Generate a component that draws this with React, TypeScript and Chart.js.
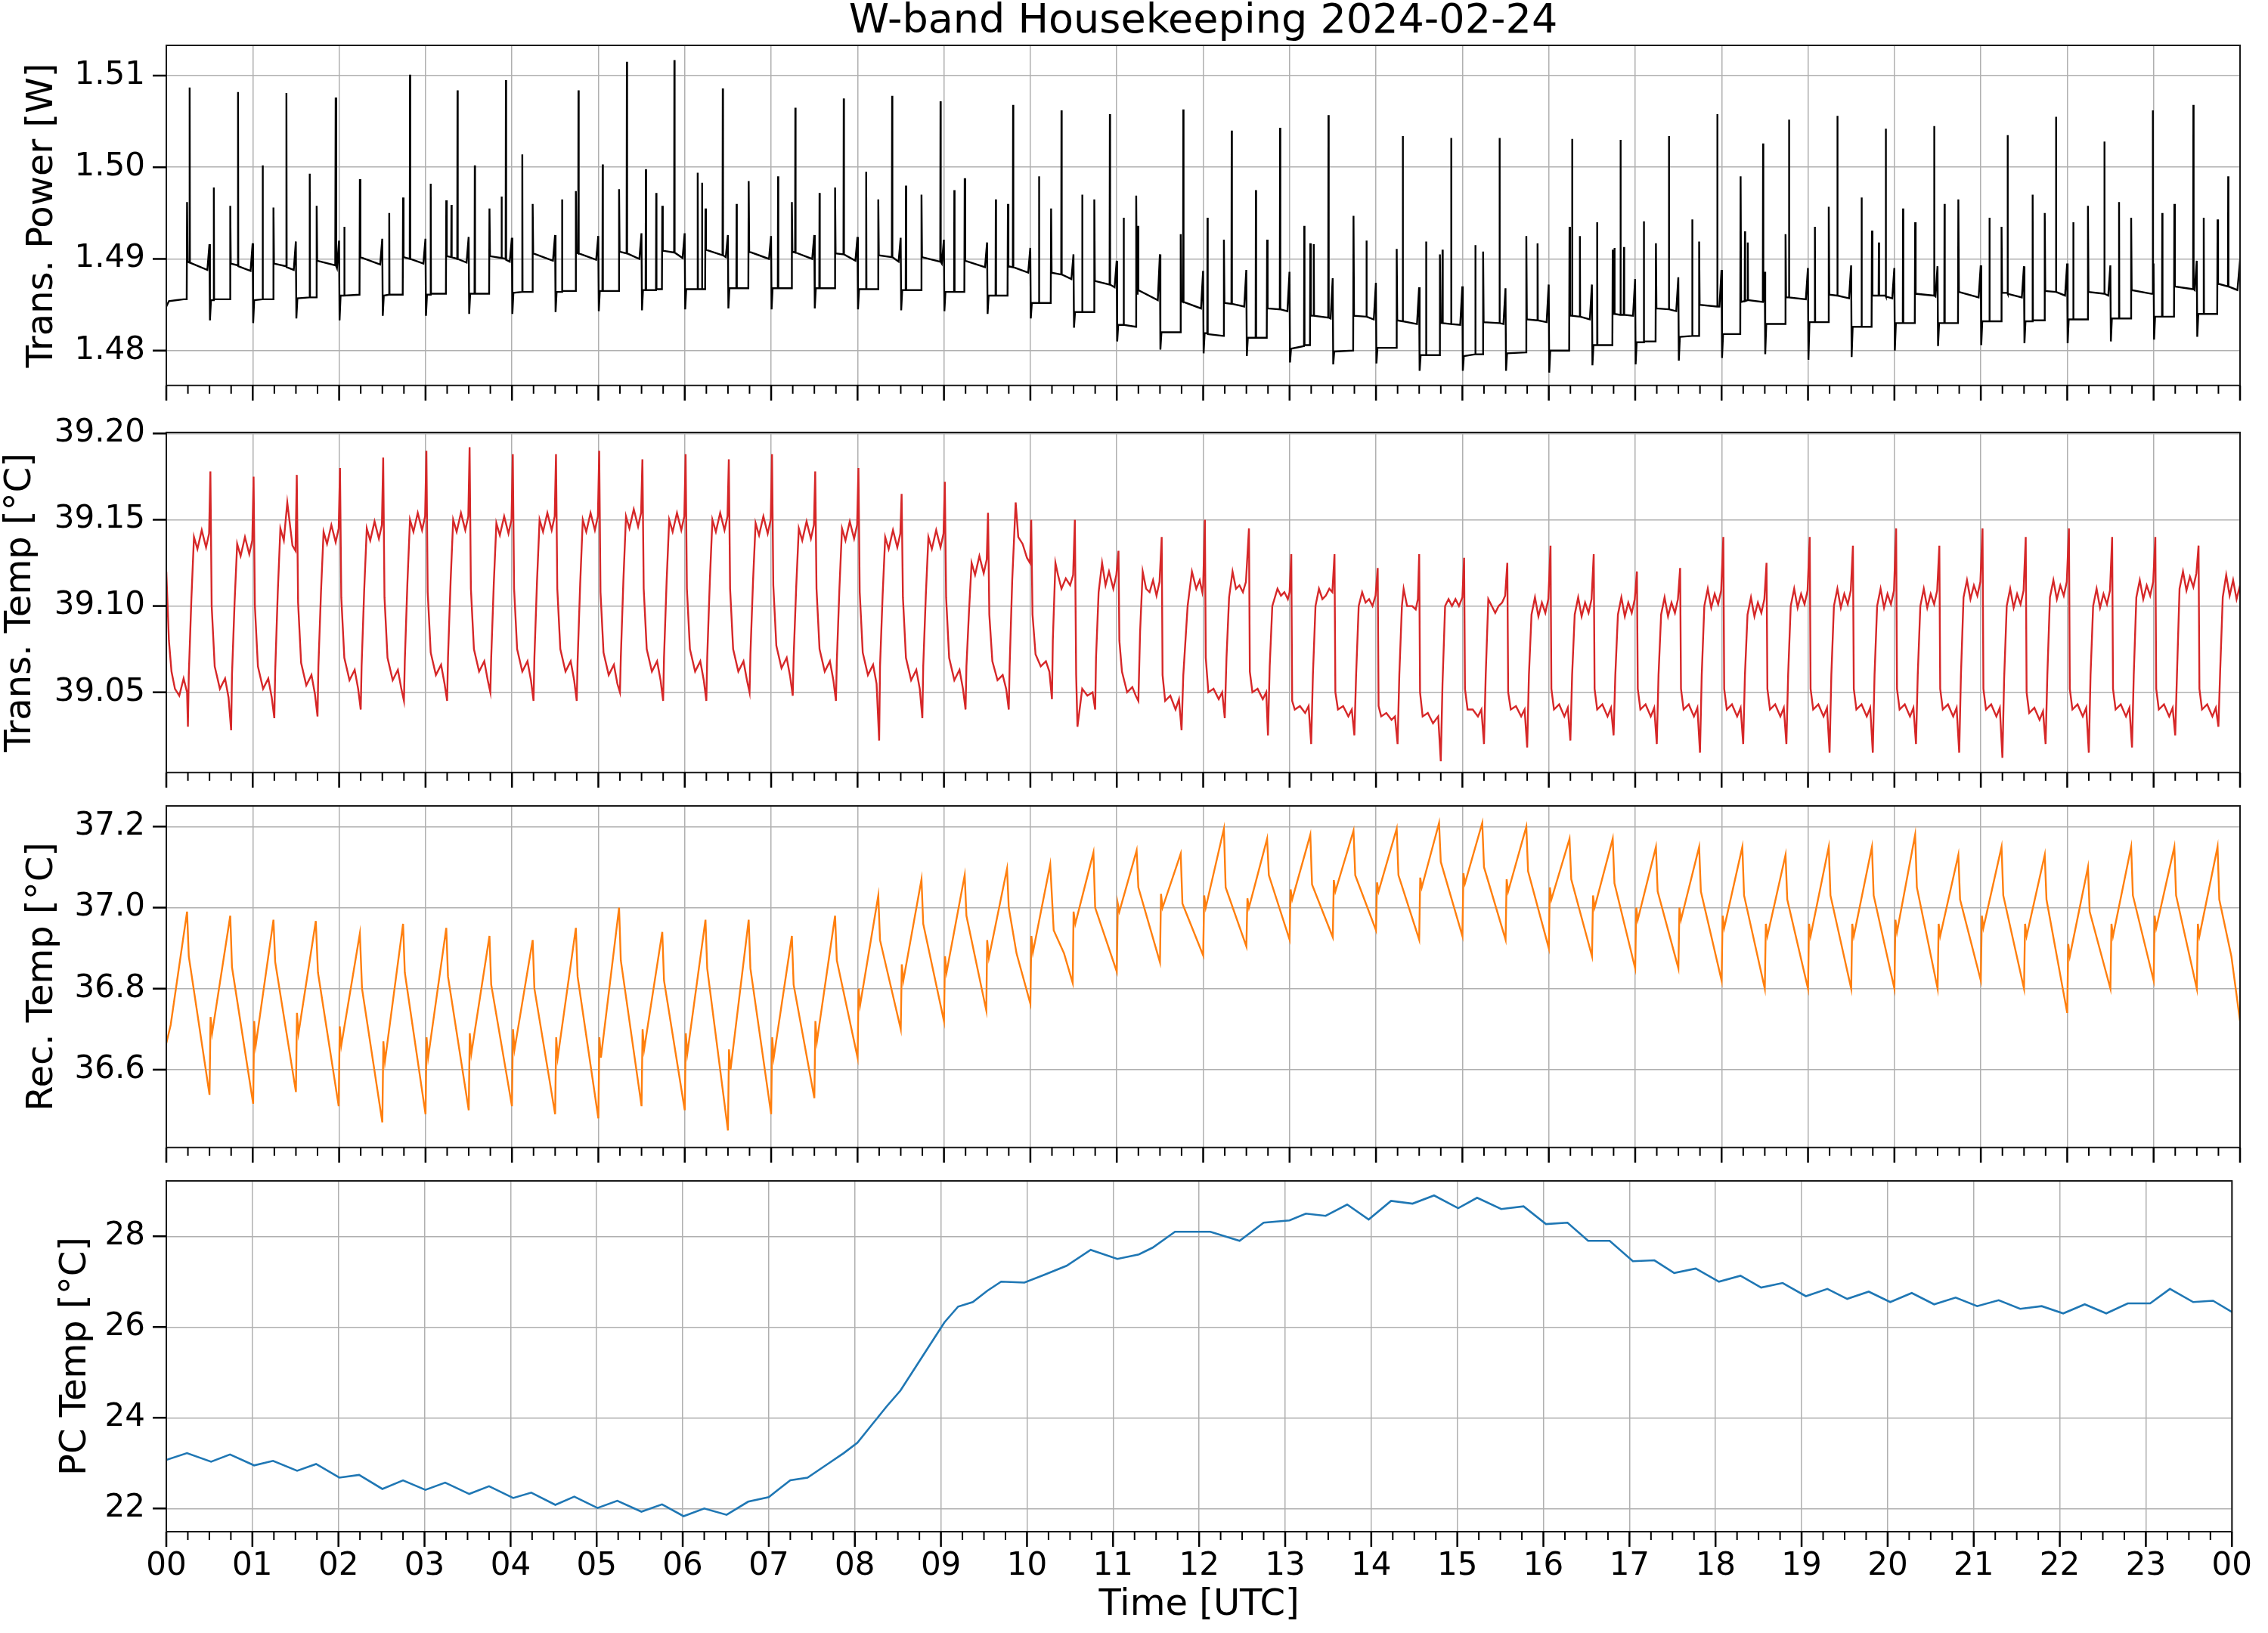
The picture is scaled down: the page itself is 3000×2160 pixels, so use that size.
import { useEffect, useRef } from 'react';
import { Chart, ChartConfiguration, registerables } from 'chart.js';

Chart.register(...registerables);

const FONT = "'DejaVu Sans', 'Liberation Sans', sans-serif";

// x axis: hour of day (UTC)
const hourLabels = [
  '00', '01', '02', '03', '04', '05', '06', '07', '08', '09', '10', '11',
  '12', '13', '14', '15', '16', '17', '18', '19', '20', '21', '22', '23', '00',
];

// y ticks per panel
const powerTicks = [1.48, 1.49, 1.5, 1.51];
const transTempTicks = [39.05, 39.1, 39.15, 39.2];
const recTempTicks = [36.6, 36.8, 37.0, 37.2];
const pcTempTicks = [22, 24, 26, 28];

// readings as [hour, value]
const powerReadings: [number, number][] = [
  [0, 1.4848], [0.03, 1.4854], [0.12, 1.4855], [0.2, 1.4856],
  [0.236, 1.4856], [0.24, 1.4962], [0.246, 1.4897], [0.267, 1.4896], [0.27, 1.5087], [0.273, 1.4896], [0.475, 1.4888], [0.499, 1.4916], [0.505, 1.4833], [0.517, 1.4855], [0.547, 1.4855], [0.55, 1.4978], [0.553, 1.4856],
  [0.736, 1.4856], [0.74, 1.4958], [0.746, 1.4895], [0.827, 1.4893], [0.83, 1.5082], [0.833, 1.4892], [0.975, 1.4887], [0.999, 1.4917], [1.005, 1.483], [1.017, 1.4855], [1.112, 1.4856], [1.115, 1.5002], [1.118, 1.4856],
  [1.236, 1.4856], [1.24, 1.4956], [1.246, 1.4895], [1.387, 1.4892], [1.39, 1.5081], [1.393, 1.4891], [1.475, 1.4888], [1.499, 1.4919], [1.505, 1.4835], [1.517, 1.4857], [1.657, 1.4858], [1.66, 1.4993], [1.663, 1.4858],
  [1.736, 1.4858], [1.74, 1.4958], [1.746, 1.4898], [1.955, 1.4893], [1.96, 1.5076], [1.967, 1.4892], [1.975, 1.489], [1.999, 1.492], [2.005, 1.4833], [2.017, 1.486], [2.057, 1.486], [2.06, 1.4935], [2.063, 1.486],
  [2.236, 1.4861], [2.24, 1.4987], [2.246, 1.4902], [2.475, 1.4894], [2.499, 1.4922], [2.505, 1.4838], [2.517, 1.486], [2.577, 1.4861], [2.58, 1.495], [2.583, 1.4861],
  [2.736, 1.4861], [2.74, 1.4967], [2.746, 1.4902], [2.817, 1.49], [2.82, 1.5101], [2.823, 1.49], [2.975, 1.4895], [2.999, 1.4922], [3.005, 1.4838], [3.017, 1.4861], [3.057, 1.4861], [3.06, 1.4982], [3.063, 1.4862],
  [3.236, 1.4862], [3.24, 1.4964], [3.246, 1.4903], [3.297, 1.4902], [3.3, 1.4959], [3.303, 1.4902], [3.367, 1.49], [3.37, 1.5084], [3.373, 1.49], [3.475, 1.4896], [3.499, 1.4924], [3.505, 1.484], [3.517, 1.4862], [3.567, 1.4862], [3.57, 1.5002], [3.573, 1.4862],
  [3.736, 1.4862], [3.74, 1.4955], [3.746, 1.4903], [3.877, 1.4901], [3.88, 1.4968], [3.883, 1.4901], [3.927, 1.49], [3.93, 1.5095], [3.933, 1.4899], [3.975, 1.4897], [3.999, 1.4923], [4.005, 1.484], [4.017, 1.4863], [4.117, 1.4864], [4.12, 1.5014], [4.123, 1.4864],
  [4.236, 1.4864], [4.24, 1.496], [4.246, 1.4906], [4.475, 1.4898], [4.499, 1.4926], [4.505, 1.4842], [4.517, 1.4864], [4.577, 1.4864], [4.58, 1.4965], [4.583, 1.4865],
  [4.736, 1.4865], [4.74, 1.4974], [4.746, 1.4907], [4.767, 1.4906], [4.77, 1.5084], [4.773, 1.4906], [4.975, 1.4899], [4.999, 1.4925], [5.005, 1.4843], [5.017, 1.4865], [5.047, 1.4865], [5.05, 1.5003], [5.053, 1.4865],
  [5.236, 1.4865], [5.24, 1.4976], [5.246, 1.4908], [5.327, 1.4906], [5.33, 1.5115], [5.333, 1.4906], [5.475, 1.49], [5.499, 1.4928], [5.505, 1.4844], [5.517, 1.4866], [5.547, 1.4866], [5.55, 1.4998], [5.553, 1.4866], [5.667, 1.4866], [5.67, 1.4972], [5.673, 1.4867],
  [5.736, 1.4867], [5.74, 1.4958], [5.746, 1.4909], [5.877, 1.4907], [5.88, 1.5117], [5.883, 1.4907], [5.975, 1.4901], [5.999, 1.4928], [6.005, 1.4845], [6.017, 1.4867], [6.147, 1.4867], [6.15, 1.4994], [6.153, 1.4867], [6.197, 1.4867], [6.2, 1.4983], [6.203, 1.4867],
  [6.236, 1.4867], [6.24, 1.4955], [6.246, 1.491], [6.437, 1.4904], [6.44, 1.5086], [6.443, 1.4904], [6.475, 1.4902], [6.499, 1.4926], [6.505, 1.4846], [6.517, 1.4868], [6.597, 1.4868], [6.6, 1.496], [6.603, 1.4868],
  [6.736, 1.4868], [6.74, 1.4985], [6.746, 1.4908], [6.975, 1.49], [6.999, 1.4925], [7.005, 1.4845], [7.017, 1.4868], [7.077, 1.4868], [7.08, 1.499], [7.083, 1.4868],
  [7.236, 1.4868], [7.24, 1.4962], [7.246, 1.4908], [7.277, 1.4907], [7.28, 1.5065], [7.283, 1.4907], [7.475, 1.49], [7.499, 1.4926], [7.505, 1.4846], [7.517, 1.4868], [7.557, 1.4868], [7.56, 1.4972], [7.563, 1.4868],
  [7.736, 1.4868], [7.74, 1.4978], [7.746, 1.4906], [7.837, 1.4905], [7.84, 1.5075], [7.843, 1.4905], [7.975, 1.4898], [7.999, 1.4924], [8.005, 1.4845], [8.017, 1.4867], [8.097, 1.4867], [8.1, 1.4995], [8.103, 1.4867],
  [8.236, 1.4867], [8.24, 1.4965], [8.246, 1.4904], [8.397, 1.4902], [8.4, 1.5078], [8.403, 1.4902], [8.475, 1.4897], [8.499, 1.4923], [8.505, 1.4844], [8.517, 1.4866], [8.557, 1.4866], [8.56, 1.498], [8.563, 1.4866],
  [8.736, 1.4866], [8.74, 1.497], [8.746, 1.4902], [8.957, 1.4897], [8.96, 1.5072], [8.963, 1.4897], [8.975, 1.4895], [8.999, 1.4921], [9.005, 1.4843], [9.017, 1.4864], [9.117, 1.4864], [9.12, 1.4975], [9.123, 1.4864],
  [9.236, 1.4864], [9.24, 1.4988], [9.246, 1.4898], [9.475, 1.4891], [9.499, 1.4918], [9.505, 1.484], [9.517, 1.486], [9.597, 1.486], [9.6, 1.4965], [9.603, 1.486],
  [9.736, 1.486], [9.74, 1.496], [9.746, 1.4892], [9.797, 1.4891], [9.8, 1.5068], [9.803, 1.4891], [9.975, 1.4885], [9.999, 1.4912], [10.005, 1.4835], [10.017, 1.4852], [10.097, 1.4852], [10.1, 1.499], [10.103, 1.4852],
  [10.236, 1.4852], [10.24, 1.4955], [10.246, 1.4885], [10.357, 1.4883], [10.36, 1.5062], [10.363, 1.4883], [10.475, 1.4878], [10.499, 1.4905], [10.505, 1.4825], [10.517, 1.4842], [10.597, 1.4842], [10.6, 1.497], [10.603, 1.4842],
  [10.736, 1.4842], [10.74, 1.4965], [10.746, 1.4876], [10.917, 1.4872], [10.92, 1.5058], [10.923, 1.4872], [10.975, 1.4869], [10.999, 1.4898], [11.005, 1.481], [11.017, 1.4828], [11.077, 1.4828], [11.08, 1.4945], [11.083, 1.4828],
  [11.22, 1.4826], [11.225, 1.4969], [11.232, 1.4862], [11.242, 1.4862], [11.245, 1.4936], [11.25, 1.4866], [11.475, 1.4855], [11.499, 1.4905], [11.505, 1.4801], [11.517, 1.482],
  [11.736, 1.482], [11.74, 1.4927], [11.746, 1.4854], [11.767, 1.4853], [11.77, 1.5063], [11.773, 1.4853], [11.975, 1.4846], [11.999, 1.4887], [12.005, 1.4797], [12.017, 1.4819], [12.047, 1.4819], [12.05, 1.4945], [12.053, 1.4818],
  [12.236, 1.4816], [12.24, 1.4921], [12.246, 1.4852], [12.327, 1.4851], [12.33, 1.504], [12.333, 1.4851], [12.475, 1.4848], [12.499, 1.4888], [12.505, 1.4794], [12.517, 1.4814], [12.607, 1.4814], [12.61, 1.4975], [12.613, 1.4814],
  [12.736, 1.4814], [12.74, 1.4921], [12.746, 1.4846], [12.887, 1.4845], [12.89, 1.5043], [12.893, 1.4845], [12.975, 1.4843], [12.999, 1.4886], [13.005, 1.4787], [13.017, 1.4802], [13.167, 1.4805], [13.17, 1.4936], [13.173, 1.4806],
  [13.236, 1.4806], [13.24, 1.4917], [13.246, 1.4838], [13.277, 1.4838], [13.28, 1.4916], [13.283, 1.4838], [13.447, 1.4836], [13.45, 1.5057], [13.453, 1.4836], [13.475, 1.4835], [13.499, 1.4879], [13.505, 1.4785], [13.517, 1.4799],
  [13.736, 1.48], [13.74, 1.4947], [13.746, 1.4838], [13.887, 1.4837], [13.89, 1.492], [13.893, 1.4837], [13.975, 1.4834], [13.999, 1.4874], [14.005, 1.4786], [14.017, 1.4803],
  [14.236, 1.4803], [14.24, 1.4911], [14.246, 1.4833], [14.307, 1.4832], [14.31, 1.5034], [14.313, 1.4832], [14.475, 1.4829], [14.499, 1.4869], [14.505, 1.4778], [14.517, 1.4795], [14.577, 1.4795], [14.58, 1.4919], [14.583, 1.4795],
  [14.736, 1.4795], [14.74, 1.4905], [14.746, 1.483], [14.767, 1.483], [14.77, 1.491], [14.773, 1.483], [14.867, 1.4829], [14.87, 1.5032], [14.873, 1.4829], [14.975, 1.4828], [14.999, 1.487], [15.005, 1.4778], [15.017, 1.4794], [15.147, 1.4796], [15.15, 1.4915], [15.153, 1.4796],
  [15.236, 1.4796], [15.24, 1.4908], [15.246, 1.4831], [15.427, 1.483], [15.43, 1.5032], [15.433, 1.483], [15.475, 1.4829], [15.499, 1.4868], [15.505, 1.4778], [15.517, 1.4797],
  [15.736, 1.4798], [15.74, 1.4925], [15.746, 1.4834], [15.867, 1.4833], [15.87, 1.4917], [15.873, 1.4833], [15.975, 1.4831], [15.999, 1.4872], [16.005, 1.4776], [16.017, 1.48],
  [16.236, 1.48], [16.24, 1.4935], [16.246, 1.4838], [16.267, 1.4838], [16.27, 1.5031], [16.273, 1.4838], [16.357, 1.4837], [16.36, 1.4925], [16.363, 1.4837], [16.475, 1.4834], [16.499, 1.4872], [16.505, 1.4784], [16.517, 1.4806], [16.557, 1.4806], [16.56, 1.494], [16.563, 1.4806],
  [16.736, 1.4806], [16.74, 1.491], [16.746, 1.484], [16.757, 1.484], [16.76, 1.4912], [16.763, 1.484], [16.827, 1.4839], [16.83, 1.503], [16.833, 1.4839], [16.867, 1.4839], [16.87, 1.4913], [16.873, 1.4839], [16.975, 1.4838], [16.999, 1.4878], [17.005, 1.4785], [17.017, 1.4809], [17.097, 1.4809], [17.1, 1.4941], [17.103, 1.481],
  [17.236, 1.481], [17.24, 1.4917], [17.246, 1.4846], [17.387, 1.4845], [17.39, 1.5034], [17.393, 1.4845], [17.475, 1.4843], [17.499, 1.488], [17.505, 1.4789], [17.517, 1.4815], [17.657, 1.4816], [17.66, 1.4943], [17.663, 1.4816],
  [17.736, 1.4816], [17.74, 1.4919], [17.746, 1.485], [17.947, 1.4848], [17.95, 1.5058], [17.953, 1.4848], [17.975, 1.4848], [17.999, 1.4888], [18.005, 1.4792], [18.017, 1.4818],
  [18.216, 1.4818], [18.22, 1.499], [18.226, 1.4853], [18.267, 1.4854], [18.27, 1.493], [18.273, 1.4854], [18.3, 1.4855], [18.303, 1.4918], [18.306, 1.4855], [18.477, 1.4853], [18.48, 1.5026], [18.483, 1.4853], [18.499, 1.4886], [18.505, 1.4796], [18.517, 1.4829],
  [18.736, 1.4829], [18.74, 1.4927], [18.746, 1.4858], [18.777, 1.4858], [18.78, 1.5052], [18.783, 1.4858], [18.975, 1.4856], [18.999, 1.489], [19.005, 1.479], [19.017, 1.4831], [19.077, 1.4831], [19.08, 1.4935], [19.083, 1.4831],
  [19.236, 1.4831], [19.24, 1.4957], [19.246, 1.4861], [19.337, 1.486], [19.34, 1.5056], [19.343, 1.486], [19.475, 1.4857], [19.499, 1.4893], [19.505, 1.4793], [19.517, 1.4826], [19.617, 1.4826], [19.62, 1.4967], [19.623, 1.4826],
  [19.736, 1.4826], [19.74, 1.4931], [19.746, 1.486], [19.817, 1.486], [19.82, 1.4918], [19.823, 1.486], [19.897, 1.486], [19.9, 1.5042], [19.903, 1.4859], [19.975, 1.4857], [19.999, 1.489], [20.005, 1.48], [20.017, 1.483], [20.097, 1.483], [20.1, 1.4955], [20.103, 1.483],
  [20.236, 1.483], [20.24, 1.494], [20.246, 1.4862], [20.457, 1.486], [20.46, 1.5045], [20.463, 1.486], [20.475, 1.4859], [20.499, 1.4892], [20.505, 1.4805], [20.517, 1.483], [20.577, 1.483], [20.58, 1.496], [20.583, 1.483],
  [20.736, 1.483], [20.74, 1.4965], [20.746, 1.4864], [20.975, 1.4858], [20.999, 1.4893], [21.005, 1.4806], [21.017, 1.4832], [21.097, 1.4832], [21.1, 1.4945], [21.103, 1.4832],
  [21.236, 1.4832], [21.24, 1.4935], [21.246, 1.4863], [21.307, 1.4863], [21.31, 1.5035], [21.313, 1.4862], [21.475, 1.4858], [21.499, 1.4892], [21.505, 1.4808], [21.517, 1.4832], [21.597, 1.4832], [21.6, 1.497], [21.603, 1.4833],
  [21.736, 1.4833], [21.74, 1.495], [21.746, 1.4865], [21.867, 1.4864], [21.87, 1.5055], [21.873, 1.4864], [21.975, 1.486], [21.999, 1.4895], [22.005, 1.4808], [22.017, 1.4834], [22.067, 1.4834], [22.07, 1.494], [22.073, 1.4834],
  [22.236, 1.4834], [22.24, 1.4958], [22.246, 1.4864], [22.427, 1.4862], [22.43, 1.5028], [22.433, 1.4862], [22.475, 1.486], [22.499, 1.4893], [22.505, 1.481], [22.517, 1.4835], [22.597, 1.4835], [22.6, 1.4962], [22.603, 1.4835],
  [22.736, 1.4835], [22.74, 1.4945], [22.746, 1.4866], [22.975, 1.4862], [22.987, 1.4862], [22.99, 1.5062], [22.993, 1.4862], [22.999, 1.4895], [23.005, 1.4812], [23.017, 1.4837], [23.097, 1.4837], [23.1, 1.495], [23.103, 1.4837],
  [23.236, 1.4837], [23.24, 1.496], [23.246, 1.487], [23.457, 1.4867], [23.46, 1.5068], [23.463, 1.4867], [23.475, 1.4866], [23.499, 1.4898], [23.505, 1.4815], [23.517, 1.484], [23.577, 1.484], [23.58, 1.4945], [23.583, 1.484],
  [23.736, 1.484], [23.74, 1.4943], [23.746, 1.4873], [23.86, 1.487], [23.863, 1.499], [23.866, 1.487], [23.97, 1.4866], [23.995, 1.4893], [24.0, 1.489],
];

const transTempReadings: [number, number][] = [
  [0, 39.12], [0.03, 39.08], [0.06, 39.062], [0.1, 39.052], [0.15, 39.048], [0.2, 39.058], [0.24, 39.05],
  [0.25, 39.03], [0.26, 39.06], [0.29, 39.104], [0.32, 39.14], [0.36, 39.133], [0.41, 39.144], [0.46, 39.134], [0.495, 39.142], [0.51, 39.178], [0.525, 39.1], [0.56, 39.065], [0.62, 39.052], [0.68, 39.058], [0.72, 39.047],
  [0.75, 39.028], [0.76, 39.06], [0.79, 39.102], [0.82, 39.136], [0.86, 39.129], [0.91, 39.14], [0.96, 39.13], [0.995, 39.138], [1.01, 39.175], [1.025, 39.1], [1.06, 39.065], [1.12, 39.052], [1.18, 39.058], [1.22, 39.047],
  [1.25, 39.035], [1.26, 39.062], [1.29, 39.108], [1.32, 39.145], [1.36, 39.138], [1.4, 39.16], [1.46, 39.135], [1.495, 39.132], [1.51, 39.176], [1.525, 39.102], [1.56, 39.067], [1.62, 39.054], [1.68, 39.06], [1.72, 39.049],
  [1.75, 39.036], [1.76, 39.065], [1.79, 39.108], [1.82, 39.143], [1.86, 39.136], [1.91, 39.147], [1.96, 39.137], [1.995, 39.145], [2.01, 39.18], [2.025, 39.105], [2.06, 39.07], [2.12, 39.057], [2.18, 39.063], [2.22, 39.052],
  [2.25, 39.04], [2.26, 39.065], [2.29, 39.109], [2.32, 39.145], [2.36, 39.138], [2.41, 39.149], [2.46, 39.139], [2.495, 39.147], [2.51, 39.186], [2.525, 39.105], [2.56, 39.07], [2.62, 39.057], [2.68, 39.063], [2.72, 39.052],
  [2.75, 39.045], [2.76, 39.068], [2.79, 39.113], [2.82, 39.15], [2.86, 39.143], [2.91, 39.154], [2.96, 39.144], [2.995, 39.152], [3.01, 39.19], [3.025, 39.108], [3.06, 39.073], [3.12, 39.06], [3.18, 39.066], [3.22, 39.055],
  [3.25, 39.045], [3.26, 39.07], [3.29, 39.114], [3.32, 39.15], [3.36, 39.143], [3.41, 39.154], [3.46, 39.144], [3.495, 39.152], [3.51, 39.192], [3.525, 39.11], [3.56, 39.075], [3.62, 39.062], [3.68, 39.068], [3.72, 39.057],
  [3.75, 39.05], [3.76, 39.07], [3.79, 39.113], [3.82, 39.148], [3.86, 39.141], [3.91, 39.152], [3.96, 39.142], [3.995, 39.15], [4.01, 39.188], [4.025, 39.11], [4.06, 39.075], [4.12, 39.062], [4.18, 39.068], [4.22, 39.057],
  [4.25, 39.045], [4.26, 39.07], [4.29, 39.114], [4.32, 39.15], [4.36, 39.143], [4.41, 39.154], [4.46, 39.144], [4.495, 39.152], [4.51, 39.188], [4.525, 39.11], [4.56, 39.075], [4.62, 39.062], [4.68, 39.068], [4.72, 39.057],
  [4.75, 39.045], [4.76, 39.068], [4.79, 39.113], [4.82, 39.15], [4.86, 39.143], [4.91, 39.154], [4.96, 39.144], [4.995, 39.152], [5.01, 39.19], [5.025, 39.108], [5.06, 39.073], [5.12, 39.06], [5.18, 39.066], [5.22, 39.055],
  [5.25, 39.05], [5.26, 39.07], [5.29, 39.115], [5.32, 39.152], [5.36, 39.145], [5.41, 39.156], [5.46, 39.146], [5.495, 39.154], [5.51, 39.185], [5.525, 39.11], [5.56, 39.075], [5.62, 39.062], [5.68, 39.068], [5.72, 39.057],
  [5.75, 39.045], [5.76, 39.07], [5.79, 39.114], [5.82, 39.15], [5.86, 39.143], [5.91, 39.154], [5.96, 39.144], [5.995, 39.152], [6.01, 39.188], [6.025, 39.11], [6.06, 39.075], [6.12, 39.062], [6.18, 39.068], [6.22, 39.057],
  [6.25, 39.045], [6.26, 39.07], [6.29, 39.114], [6.32, 39.15], [6.36, 39.143], [6.41, 39.154], [6.46, 39.144], [6.495, 39.152], [6.51, 39.185], [6.525, 39.11], [6.56, 39.075], [6.62, 39.062], [6.68, 39.068], [6.72, 39.057],
  [6.75, 39.05], [6.76, 39.072], [6.79, 39.114], [6.82, 39.148], [6.86, 39.141], [6.91, 39.152], [6.96, 39.142], [6.995, 39.15], [7.01, 39.188], [7.025, 39.112], [7.06, 39.077], [7.12, 39.064], [7.18, 39.07], [7.22, 39.059],
  [7.25, 39.048], [7.26, 39.07], [7.29, 39.111], [7.32, 39.145], [7.36, 39.138], [7.41, 39.149], [7.46, 39.139], [7.495, 39.147], [7.51, 39.178], [7.525, 39.11], [7.56, 39.075], [7.62, 39.062], [7.68, 39.068], [7.72, 39.057],
  [7.75, 39.045], [7.76, 39.068], [7.79, 39.11], [7.82, 39.145], [7.86, 39.138], [7.91, 39.149], [7.96, 39.139], [7.995, 39.147], [8.01, 39.18], [8.025, 39.108], [8.06, 39.073], [8.12, 39.06], [8.18, 39.066], [8.22, 39.055],
  [8.25, 39.022], [8.26, 39.065], [8.29, 39.106], [8.32, 39.14], [8.36, 39.133], [8.41, 39.144], [8.46, 39.134], [8.495, 39.142], [8.51, 39.165], [8.525, 39.105], [8.56, 39.07], [8.62, 39.057], [8.68, 39.063], [8.72, 39.052],
  [8.75, 39.035], [8.76, 39.065], [8.79, 39.106], [8.82, 39.14], [8.86, 39.133], [8.91, 39.144], [8.96, 39.134], [8.995, 39.142], [9.01, 39.172], [9.025, 39.105], [9.06, 39.07], [9.12, 39.057], [9.18, 39.063], [9.22, 39.052],
  [9.25, 39.04], [9.26, 39.065], [9.29, 39.097], [9.32, 39.125], [9.36, 39.118], [9.41, 39.129], [9.46, 39.119], [9.495, 39.127], [9.51, 39.154], [9.525, 39.095], [9.56, 39.068], [9.62, 39.057], [9.68, 39.06], [9.72, 39.052],
  [9.75, 39.04], [9.76, 39.065], [9.79, 39.115], [9.83, 39.16], [9.86, 39.14], [9.91, 39.136], [9.96, 39.128], [9.995, 39.125], [10.01, 39.15], [10.025, 39.095], [10.06, 39.072], [10.12, 39.065], [10.18, 39.068], [10.22, 39.062],
  [10.25, 39.046], [10.26, 39.08], [10.29, 39.125], [10.32, 39.118], [10.36, 39.11], [10.41, 39.116], [10.46, 39.112], [10.495, 39.118], [10.515, 39.15], [10.53, 39.06], [10.545, 39.03], [10.6, 39.052], [10.66, 39.048], [10.72, 39.05],
  [10.75, 39.04], [10.76, 39.07], [10.79, 39.108], [10.83, 39.125], [10.87, 39.112], [10.91, 39.12], [10.96, 39.11], [10.995, 39.118], [11.02, 39.132], [11.03, 39.08], [11.06, 39.062], [11.12, 39.05], [11.18, 39.053], [11.22, 39.048],
  [11.25, 39.045], [11.27, 39.085], [11.3, 39.12], [11.34, 39.11], [11.38, 39.108], [11.42, 39.115], [11.46, 39.106], [11.495, 39.114], [11.52, 39.14], [11.53, 39.06], [11.56, 39.045], [11.62, 39.048], [11.68, 39.04], [11.72, 39.046],
  [11.75, 39.028], [11.77, 39.06], [11.82, 39.1], [11.87, 39.12], [11.92, 39.11], [11.96, 39.115], [11.99, 39.108], [12.0, 39.112], [12.02, 39.15], [12.03, 39.07], [12.06, 39.05], [12.12, 39.052], [12.18, 39.046], [12.22, 39.05],
  [12.25, 39.035], [12.27, 39.07], [12.3, 39.105], [12.34, 39.12], [12.38, 39.11], [12.42, 39.112], [12.46, 39.108], [12.495, 39.114], [12.53, 39.145], [12.54, 39.062], [12.57, 39.05], [12.63, 39.052], [12.69, 39.046], [12.73, 39.05],
  [12.75, 39.025], [12.77, 39.065], [12.8, 39.1], [12.86, 39.11], [12.9, 39.106], [12.94, 39.108], [12.98, 39.104], [13.0, 39.108], [13.02, 39.13], [13.03, 39.045], [13.06, 39.04], [13.12, 39.042], [13.18, 39.038], [13.22, 39.042],
  [13.25, 39.02], [13.27, 39.06], [13.3, 39.1], [13.34, 39.11], [13.38, 39.104], [13.42, 39.106], [13.46, 39.11], [13.495, 39.108], [13.52, 39.13], [13.53, 39.05], [13.56, 39.04], [13.62, 39.042], [13.68, 39.036], [13.72, 39.04],
  [13.75, 39.025], [13.77, 39.06], [13.8, 39.1], [13.84, 39.108], [13.88, 39.102], [13.92, 39.104], [13.96, 39.1], [13.995, 39.106], [14.02, 39.122], [14.03, 39.042], [14.06, 39.036], [14.12, 39.038], [14.18, 39.034], [14.22, 39.036],
  [14.25, 39.02], [14.27, 39.06], [14.3, 39.1], [14.32, 39.11], [14.36, 39.1], [14.42, 39.1], [14.46, 39.098], [14.485, 39.104], [14.5, 39.13], [14.51, 39.05], [14.54, 39.036], [14.6, 39.038], [14.66, 39.032], [14.72, 39.036],
  [14.75, 39.01], [14.77, 39.055], [14.8, 39.1], [14.84, 39.104], [14.88, 39.1], [14.92, 39.104], [14.96, 39.1], [15.0, 39.105], [15.02, 39.128], [15.03, 39.052], [15.06, 39.04], [15.12, 39.04], [15.18, 39.036], [15.22, 39.04],
  [15.25, 39.02], [15.27, 39.06], [15.3, 39.104], [15.34, 39.1], [15.38, 39.096], [15.42, 39.1], [15.46, 39.102], [15.495, 39.106], [15.52, 39.125], [15.53, 39.05], [15.56, 39.04], [15.62, 39.042], [15.68, 39.036], [15.72, 39.04],
  [15.75, 39.018], [15.77, 39.06], [15.8, 39.095], [15.84, 39.105], [15.88, 39.094], [15.92, 39.102], [15.96, 39.096], [15.995, 39.104], [16.02, 39.135], [16.03, 39.052], [16.06, 39.04], [16.12, 39.043], [16.18, 39.036], [16.22, 39.041],
  [16.25, 39.022], [16.27, 39.06], [16.3, 39.095], [16.34, 39.105], [16.38, 39.094], [16.42, 39.102], [16.46, 39.096], [16.495, 39.104], [16.52, 39.13], [16.53, 39.052], [16.56, 39.04], [16.62, 39.043], [16.68, 39.036], [16.72, 39.041],
  [16.75, 39.025], [16.77, 39.06], [16.8, 39.095], [16.84, 39.105], [16.88, 39.094], [16.92, 39.102], [16.96, 39.096], [16.995, 39.104], [17.02, 39.12], [17.03, 39.052], [17.06, 39.04], [17.12, 39.043], [17.18, 39.036], [17.22, 39.041],
  [17.25, 39.02], [17.27, 39.06], [17.3, 39.095], [17.34, 39.105], [17.38, 39.094], [17.42, 39.102], [17.46, 39.096], [17.495, 39.104], [17.52, 39.122], [17.53, 39.052], [17.56, 39.04], [17.62, 39.043], [17.68, 39.036], [17.72, 39.041],
  [17.75, 39.015], [17.77, 39.06], [17.8, 39.1], [17.84, 39.11], [17.88, 39.099], [17.92, 39.107], [17.96, 39.101], [17.995, 39.109], [18.02, 39.14], [18.03, 39.052], [18.06, 39.04], [18.12, 39.043], [18.18, 39.036], [18.22, 39.041],
  [18.25, 39.02], [18.27, 39.06], [18.3, 39.095], [18.34, 39.105], [18.38, 39.094], [18.42, 39.102], [18.46, 39.096], [18.495, 39.104], [18.52, 39.125], [18.53, 39.052], [18.56, 39.04], [18.62, 39.043], [18.68, 39.036], [18.72, 39.041],
  [18.75, 39.02], [18.77, 39.06], [18.8, 39.1], [18.84, 39.11], [18.88, 39.099], [18.92, 39.107], [18.96, 39.101], [18.995, 39.109], [19.02, 39.14], [19.03, 39.052], [19.06, 39.04], [19.12, 39.043], [19.18, 39.036], [19.22, 39.041],
  [19.25, 39.015], [19.27, 39.06], [19.3, 39.1], [19.34, 39.11], [19.38, 39.099], [19.42, 39.107], [19.46, 39.101], [19.495, 39.109], [19.52, 39.135], [19.53, 39.052], [19.56, 39.04], [19.62, 39.043], [19.68, 39.036], [19.72, 39.041],
  [19.75, 39.015], [19.77, 39.06], [19.8, 39.1], [19.84, 39.11], [19.88, 39.099], [19.92, 39.107], [19.96, 39.101], [19.995, 39.109], [20.02, 39.145], [20.03, 39.052], [20.06, 39.04], [20.12, 39.043], [20.18, 39.036], [20.22, 39.041],
  [20.25, 39.02], [20.27, 39.06], [20.3, 39.1], [20.34, 39.11], [20.38, 39.099], [20.42, 39.107], [20.46, 39.101], [20.495, 39.109], [20.52, 39.135], [20.53, 39.052], [20.56, 39.04], [20.62, 39.043], [20.68, 39.036], [20.72, 39.041],
  [20.75, 39.015], [20.77, 39.06], [20.8, 39.105], [20.84, 39.115], [20.88, 39.104], [20.92, 39.112], [20.96, 39.106], [20.995, 39.114], [21.02, 39.145], [21.03, 39.052], [21.06, 39.04], [21.12, 39.043], [21.18, 39.036], [21.22, 39.041],
  [21.25, 39.012], [21.27, 39.058], [21.3, 39.1], [21.34, 39.11], [21.38, 39.099], [21.42, 39.107], [21.46, 39.101], [21.495, 39.109], [21.52, 39.14], [21.53, 39.05], [21.56, 39.038], [21.62, 39.041], [21.68, 39.034], [21.72, 39.039],
  [21.75, 39.02], [21.77, 39.06], [21.8, 39.105], [21.84, 39.115], [21.88, 39.104], [21.92, 39.112], [21.96, 39.106], [21.995, 39.114], [22.02, 39.145], [22.03, 39.052], [22.06, 39.04], [22.12, 39.043], [22.18, 39.036], [22.22, 39.041],
  [22.25, 39.015], [22.27, 39.06], [22.3, 39.1], [22.34, 39.11], [22.38, 39.099], [22.42, 39.107], [22.46, 39.101], [22.495, 39.109], [22.52, 39.14], [22.53, 39.052], [22.56, 39.04], [22.62, 39.043], [22.68, 39.036], [22.72, 39.041],
  [22.75, 39.018], [22.77, 39.06], [22.8, 39.105], [22.84, 39.115], [22.88, 39.104], [22.92, 39.112], [22.96, 39.106], [22.995, 39.114], [23.02, 39.14], [23.03, 39.052], [23.06, 39.04], [23.12, 39.043], [23.18, 39.036], [23.22, 39.041],
  [23.25, 39.025], [23.27, 39.06], [23.3, 39.11], [23.34, 39.12], [23.38, 39.109], [23.42, 39.117], [23.46, 39.111], [23.495, 39.119], [23.52, 39.135], [23.53, 39.052], [23.56, 39.04], [23.62, 39.043], [23.68, 39.036], [23.72, 39.041],
  [23.75, 39.03], [23.77, 39.062], [23.8, 39.105], [23.84, 39.118], [23.88, 39.106], [23.92, 39.115], [23.96, 39.104], [24.0, 39.112],
];

const recTempReadings: [number, number][] = [
  [0, 36.665], [0.05, 36.71], [0.24, 36.99], [0.26, 36.88],
  [0.5, 36.538], [0.512, 36.73], [0.53, 36.69], [0.74, 36.98], [0.76, 36.853],
  [1.005, 36.516], [1.017, 36.72], [1.035, 36.66], [1.24, 36.97], [1.26, 36.866],
  [1.5, 36.545], [1.512, 36.74], [1.53, 36.69], [1.73, 36.967], [1.755, 36.84],
  [1.995, 36.51], [2.007, 36.707], [2.025, 36.66], [2.24, 36.936], [2.265, 36.8],
  [2.5, 36.47], [2.512, 36.67], [2.53, 36.62], [2.74, 36.96], [2.76, 36.84],
  [3.0, 36.49], [3.012, 36.68], [3.03, 36.63], [3.24, 36.95], [3.26, 36.83],
  [3.5, 36.5], [3.512, 36.69], [3.53, 36.64], [3.74, 36.93], [3.76, 36.81],
  [4.0, 36.51], [4.012, 36.7], [4.03, 36.65], [4.24, 36.92], [4.26, 36.8],
  [4.5, 36.49], [4.512, 36.68], [4.53, 36.63], [4.74, 36.95], [4.76, 36.83],
  [5.0, 36.48], [5.012, 36.68], [5.03, 36.63], [5.24, 37.0], [5.26, 36.87],
  [5.5, 36.51], [5.512, 36.7], [5.53, 36.65], [5.74, 36.94], [5.76, 36.82],
  [6.0, 36.5], [6.012, 36.69], [6.03, 36.64], [6.24, 36.97], [6.26, 36.85],
  [6.5, 36.45], [6.512, 36.65], [6.53, 36.6], [6.74, 36.97], [6.76, 36.85],
  [7.0, 36.49], [7.012, 36.68], [7.03, 36.63], [7.24, 36.93], [7.26, 36.81],
  [7.5, 36.53], [7.512, 36.72], [7.53, 36.67], [7.74, 36.98], [7.76, 36.87],
  [8.0, 36.63], [8.012, 36.8], [8.03, 36.76], [8.24, 37.03], [8.26, 36.92],
  [8.5, 36.7], [8.512, 36.86], [8.53, 36.82], [8.74, 37.07], [8.76, 36.96],
  [9.0, 36.72], [9.012, 36.88], [9.03, 36.84], [9.24, 37.08], [9.26, 36.98],
  [9.49, 36.746], [9.5, 36.92], [9.52, 36.876], [9.73, 37.096], [9.75, 37.0], [9.84, 36.887],
  [10.0, 36.763], [10.012, 36.93], [10.03, 36.89], [10.23, 37.107], [10.27, 36.944], [10.39, 36.887],
  [10.49, 36.814], [10.5, 36.99], [10.52, 36.96], [10.73, 37.136], [10.75, 37.0],
  [11.0, 36.842], [11.012, 37.01], [11.03, 36.99], [11.23, 37.141], [11.25, 37.05],
  [11.5, 36.865], [11.512, 37.034], [11.53, 37.0], [11.74, 37.133], [11.76, 37.01],
  [12.0, 36.882], [12.012, 37.03], [12.03, 37.0], [12.24, 37.195], [12.26, 37.05],
  [12.5, 36.904], [12.512, 37.023], [12.53, 37.0], [12.74, 37.17], [12.76, 37.08],
  [13.0, 36.921], [13.012, 37.045], [13.03, 37.02], [13.24, 37.18], [13.26, 37.057],
  [13.5, 36.927], [13.512, 37.068], [13.53, 37.04], [13.74, 37.19], [13.76, 37.08],
  [14.0, 36.944], [14.012, 37.062], [14.03, 37.04], [14.24, 37.195], [14.26, 37.08],
  [14.5, 36.921], [14.512, 37.074], [14.53, 37.05], [14.73, 37.209], [14.75, 37.113],
  [15.0, 36.93], [15.012, 37.085], [15.03, 37.06], [15.23, 37.209], [15.25, 37.1],
  [15.5, 36.921], [15.512, 37.07], [15.53, 37.04], [15.74, 37.2], [15.76, 37.09],
  [16.0, 36.9], [16.012, 37.05], [16.03, 37.02], [16.24, 37.17], [16.26, 37.07],
  [16.5, 36.88], [16.512, 37.03], [16.53, 37.0], [16.74, 37.17], [16.76, 37.06],
  [17.0, 36.85], [17.012, 37.0], [17.03, 36.97], [17.24, 37.15], [17.26, 37.04],
  [17.5, 36.85], [17.512, 37.0], [17.53, 36.97], [17.74, 37.15], [17.76, 37.04],
  [18.0, 36.82], [18.012, 36.98], [18.03, 36.95], [18.24, 37.15], [18.26, 37.03],
  [18.5, 36.8], [18.512, 36.96], [18.53, 36.93], [18.74, 37.13], [18.76, 37.02],
  [19.0, 36.8], [19.012, 36.96], [19.03, 36.93], [19.24, 37.15], [19.26, 37.03],
  [19.5, 36.8], [19.512, 36.96], [19.53, 36.93], [19.74, 37.15], [19.76, 37.03],
  [20.0, 36.8], [20.012, 36.97], [20.03, 36.94], [20.24, 37.18], [20.26, 37.05],
  [20.5, 36.8], [20.512, 36.96], [20.53, 36.93], [20.74, 37.13], [20.76, 37.02],
  [21.0, 36.82], [21.012, 36.98], [21.03, 36.95], [21.24, 37.15], [21.26, 37.03],
  [21.5, 36.8], [21.512, 36.96], [21.53, 36.93], [21.74, 37.13], [21.76, 37.02],
  [22.0, 36.74], [22.012, 36.91], [22.03, 36.88], [22.24, 37.1], [22.26, 36.99],
  [22.5, 36.8], [22.512, 36.96], [22.53, 36.93], [22.74, 37.15], [22.76, 37.03],
  [23.0, 36.82], [23.012, 36.98], [23.03, 36.95], [23.24, 37.15], [23.26, 37.03],
  [23.5, 36.8], [23.512, 36.96], [23.53, 36.93], [23.74, 37.15], [23.76, 37.02], [23.9, 36.88], [24.0, 36.72],
];

const pcTempReadings: [number, number][] = [
  [0, 23.07], [0.24, 23.22], [0.52, 23.03], [0.74, 23.19], [1.02, 22.95], [1.24, 23.05], [1.52, 22.83], [1.74, 22.98],
  [2.01, 22.68], [2.24, 22.74], [2.51, 22.43], [2.75, 22.62], [3.01, 22.41], [3.24, 22.57], [3.52, 22.32], [3.75, 22.49],
  [4.03, 22.23], [4.24, 22.35], [4.52, 22.08], [4.74, 22.26], [5.01, 22.01], [5.24, 22.17], [5.52, 21.93], [5.76, 22.09],
  [6.01, 21.83], [6.25, 22.0], [6.51, 21.86], [6.76, 22.15], [7.0, 22.25], [7.1, 22.4], [7.25, 22.62], [7.45, 22.68],
  [7.7, 23.0], [7.87, 23.22], [8.03, 23.45], [8.2, 23.85], [8.37, 24.25], [8.53, 24.6], [8.7, 25.1], [8.87, 25.6],
  [9.04, 26.1], [9.2, 26.45], [9.37, 26.55], [9.54, 26.8], [9.7, 27.0], [9.97, 26.98], [10.2, 27.15], [10.46, 27.35],
  [10.74, 27.7], [11.05, 27.5], [11.3, 27.6], [11.46, 27.75], [11.72, 28.1], [12.13, 28.1], [12.47, 27.9], [12.75, 28.3],
  [13.05, 28.35], [13.24, 28.5], [13.47, 28.45], [13.72, 28.7], [13.97, 28.37], [14.23, 28.78], [14.48, 28.72], [14.73, 28.9],
  [15.01, 28.62], [15.23, 28.85], [15.51, 28.6], [15.77, 28.66], [16.03, 28.27], [16.28, 28.3], [16.52, 27.9], [16.77, 27.9],
  [17.04, 27.45], [17.29, 27.47], [17.52, 27.19], [17.77, 27.29], [18.04, 27.0], [18.29, 27.13], [18.53, 26.87], [18.78, 26.97],
  [19.05, 26.68], [19.3, 26.84], [19.53, 26.62], [19.78, 26.78], [20.03, 26.55], [20.28, 26.75], [20.54, 26.5], [20.79, 26.65],
  [21.04, 26.46], [21.29, 26.59], [21.54, 26.4], [21.79, 26.46], [22.04, 26.3], [22.29, 26.5], [22.54, 26.3], [22.79, 26.52],
  [23.05, 26.52], [23.28, 26.84], [23.55, 26.55], [23.78, 26.58], [24.0, 26.33],
];

type Panel = {
  label: string;
  readings: [number, number][];
  ticks: number[];
  decimals: number;
  min: number;
  max: number;
  color: string;
  lineWidth: number;
  top: number;
  bottom: number;
  labelCenter: number;
};

const panels: Panel[] = [
  { label: 'Trans. Power [W]', readings: powerReadings, ticks: powerTicks, decimals: 2, min: 1.4762, max: 1.5133, color: '#000000', lineWidth: 2.4, top: 60, bottom: 523, labelCenter: 57 },
  { label: 'Trans. Temp [°C]', readings: transTempReadings, ticks: transTempTicks, decimals: 2, min: 39.0035, max: 39.2006, color: '#d62728', lineWidth: 2.4, top: 572, bottom: 1035, labelCenter: 28 },
  { label: 'Rec. Temp [°C]', readings: recTempReadings, ticks: recTempTicks, decimals: 1, min: 36.408, max: 37.251, color: '#ff7f0e', lineWidth: 2.4, top: 1066, bottom: 1531, labelCenter: 57 },
  { label: 'PC Temp [°C]', readings: pcTempReadings, ticks: pcTempTicks, decimals: 0, min: 21.488, max: 29.221, color: '#1f77b4', lineWidth: 2.6, top: 1562, bottom: 2026, labelCenter: 101 },
];

const PAGE_W = 3000;
const PAGE_H = 2160;
const PLOT_LEFT = 220;
const PLOT_RIGHT = 2963;
const PAD_ABOVE = 60;
const PAD_BELOW = 40;
const MINOR_PER_HOUR = 4;

// matplotlib-like frame plus outward tick marks
const frameAndTicks = {
  id: 'frameAndTicks',
  afterDraw(chart: Chart) {
    const { ctx, chartArea } = chart;
    const { left, right, top, bottom } = chartArea;
    const x = chart.scales.x;
    const y = chart.scales.y;
    ctx.save();
    ctx.strokeStyle = '#1a1a1a';
    ctx.lineWidth = 2;
    ctx.strokeRect(left, top, right - left, bottom - top);

    ctx.strokeStyle = '#000000';
    const last = hourLabels.length - 1;
    for (let q = 0; q <= last * MINOR_PER_HOUR; q++) {
      const major = q % MINOR_PER_HOUR === 0;
      const px = x.getPixelForValue(q / MINOR_PER_HOUR);
      ctx.lineWidth = major ? 2.5 : 2;
      ctx.beginPath();
      ctx.moveTo(px, bottom);
      ctx.lineTo(px, bottom + (major ? 20 : 11));
      ctx.stroke();
    }
    ctx.lineWidth = 2.5;
    y.ticks.forEach((t) => {
      const py = y.getPixelForValue(t.value);
      ctx.beginPath();
      ctx.moveTo(left - 18, py);
      ctx.lineTo(left, py);
      ctx.stroke();
    });
    ctx.restore();
  },
};

function PanelChart({ panel, index, last }: { panel: Panel; index: number; last: boolean }) {
  const canvasRef = useRef<HTMLCanvasElement>(null);
  const chartRef = useRef<Chart | null>(null);
  const canvasTop = panel.top - PAD_ABOVE;
  const height = last ? PAGE_H - canvasTop : panel.bottom + PAD_BELOW - canvasTop;

  useEffect(() => {
    if (!canvasRef.current) return;
    if (chartRef.current) chartRef.current.destroy();
    const first = index === 0;

    const config: ChartConfiguration<'line'> = {
      type: 'line',
      data: {
        datasets: [
          {
            data: panel.readings.map(([hour, value]) => ({ x: hour, y: value })),
            borderColor: panel.color,
            borderWidth: panel.lineWidth,
            pointRadius: 0,
            tension: 0,
            fill: false,
          },
        ],
      },
      options: {
        animation: false,
        responsive: false,
        maintainAspectRatio: false,
        devicePixelRatio: 1,
        events: [],
        layout: {
          padding: { top: first ? 0 : PAD_ABOVE, right: PAGE_W - PLOT_RIGHT, bottom: last ? 0 : PAD_BELOW, left: 0 },
        },
        plugins: {
          legend: { display: false },
          tooltip: { enabled: false },
          title: {
            display: first,
            text: 'W-band Housekeeping 2024-02-24',
            fullSize: false,
            color: '#000000',
            font: { family: FONT, size: 54, weight: 'normal', lineHeight: 1 },
            padding: { top: 2, bottom: 4 },
          },
        },
        scales: {
          x: {
            type: 'linear',
            min: 0,
            max: hourLabels.length - 1,
            afterBuildTicks: (scale) => {
              scale.ticks = hourLabels.map((_, i) => ({ value: i }));
            },
            afterFit: (scale) => {
              scale.height = last ? height - (panel.bottom - canvasTop) : 0;
            },
            ticks: {
              display: last,
              autoSkip: false,
              maxRotation: 0,
              padding: 21,
              color: '#000000',
              font: { family: FONT, size: 42 },
              callback: (value) => hourLabels[Math.round(Number(value))] ?? '',
            },
            grid: { color: '#b0b0b0', lineWidth: 1.5, drawTicks: false },
            border: { display: false },
            title: {
              display: last,
              text: 'Time [UTC]',
              color: '#000000',
              font: { family: FONT, size: 48, lineHeight: 1 },
              padding: { top: 0, bottom: 12 },
            },
          },
          y: {
            type: 'linear',
            min: panel.min,
            max: panel.max,
            afterBuildTicks: (scale) => {
              scale.ticks = panel.ticks.map((v) => ({ value: v }));
            },
            afterFit: (scale) => {
              scale.width = PLOT_LEFT;
            },
            ticks: {
              padding: 28,
              color: '#000000',
              font: { family: FONT, size: 42 },
              callback: (value) => Number(value).toFixed(panel.decimals),
            },
            grid: { color: '#b0b0b0', lineWidth: 1.5, drawTicks: false },
            border: { display: false },
            title: {
              display: true,
              text: panel.label,
              color: '#000000',
              font: { family: FONT, size: 48, lineHeight: 1 },
              padding: { top: panel.labelCenter - 24, bottom: 0 },
            },
          },
        },
      },
      plugins: [frameAndTicks],
    };

    chartRef.current = new Chart(canvasRef.current, config);
    return () => {
      if (chartRef.current) {
        chartRef.current.destroy();
        chartRef.current = null;
      }
    };
  }, [panel, index, last, height, canvasTop]);

  return (
    <canvas
      ref={canvasRef}
      width={PAGE_W}
      height={height}
      style={{ position: 'absolute', left: 0, top: canvasTop, width: PAGE_W, height }}
    />
  );
}

export default function App() {
  return (
    <div style={{ position: 'absolute', left: 0, top: 0, width: PAGE_W, height: PAGE_H, background: '#ffffff', overflow: 'hidden' }}>
      {panels.map((panel, i) => (
        <PanelChart key={panel.label} panel={panel} index={i} last={i === panels.length - 1} />
      ))}
    </div>
  );
}
